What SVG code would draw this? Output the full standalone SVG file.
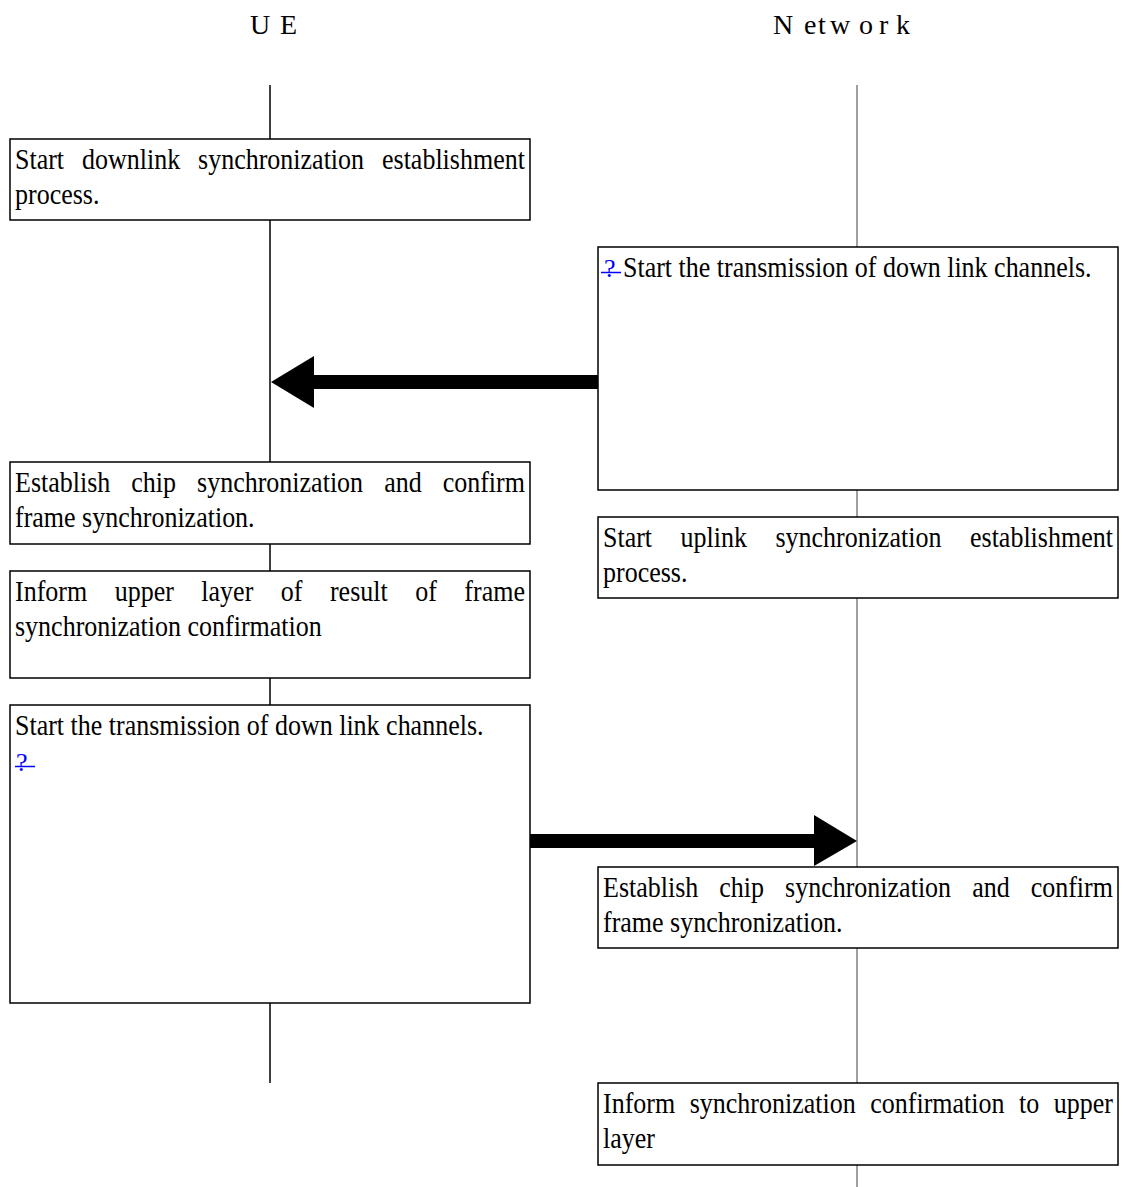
<svg xmlns="http://www.w3.org/2000/svg" width="1123" height="1187" viewBox="0 0 1123 1187">
<style>
.bg{fill:#fff}
.box{fill:#fff;stroke:#000;stroke-width:1.5}
.t{font-family:"Liberation Serif","Times New Roman",serif;font-size:30px;fill:#000}
.h{font-family:"Liberation Serif","Times New Roman",serif;font-size:28px;fill:#000}
.q{font-family:"Liberation Serif","Times New Roman",serif;font-size:26px;fill:#0000ff}
.ql{stroke:#0000ff;stroke-width:1.5}
.life-ue{stroke:#000;stroke-width:1.5}
.life-nw{stroke:#808080;stroke-width:1.5}
.arr{fill:#000}
</style>
<rect class="bg" x="0" y="0" width="1123" height="1187"/>
<g id="headers">
  <text class="h" y="34" x="250 280">UE</text>
  <text class="h" y="34" x="773 804 818 830 859 879 896">Network</text>
</g>
<g id="lifelines">
  <line class="life-ue" x1="270" y1="85" x2="270" y2="1083"/>
  <line class="life-nw" x1="857" y1="85" x2="857" y2="1187"/>
</g>
<g id="ue-box1">
  <rect class="box" x="10" y="139" width="520" height="81"/>
  <text class="t" transform="matrix(0.8667 0 0 1 15 0)" y="169"><tspan x="0">Start </tspan><tspan x="77.27">downlink </tspan><tspan x="211.21">synchronization </tspan><tspan x="423.45">establishment</tspan></text>
  <text class="t" transform="matrix(0.8667 0 0 1 15 0)" x="0" y="204">process.</text>
</g>
<g id="nw-box1">
  <rect class="box" x="598" y="247" width="520" height="243"/>
  <line class="ql" x1="601" y1="272.5" x2="621" y2="272.5"/>
  <text class="q" x="604" y="277">?</text>
  <text class="t" transform="matrix(0.8667 0 0 1 623 0)" x="0" y="277">Start the transmission of down link channels.</text>
</g>
<g id="ue-box2">
  <rect class="box" x="10" y="462" width="520" height="82"/>
  <text class="t" transform="matrix(0.8667 0 0 1 15 0)" y="492"><tspan x="0">Establish </tspan><tspan x="134.22">chip </tspan><tspan x="210.09">synchronization </tspan><tspan x="425.94">and </tspan><tspan x="493.47">confirm</tspan></text>
  <text class="t" transform="matrix(0.8667 0 0 1 15 0)" x="0" y="527">frame synchronization.</text>
</g>
<g id="ue-box3">
  <rect class="box" x="10" y="571" width="520" height="107"/>
  <text class="t" transform="matrix(0.8667 0 0 1 15 0)" y="601"><tspan x="0">Inform </tspan><tspan x="115.02">upper </tspan><tspan x="215.04">layer </tspan><tspan x="306.72">of </tspan><tspan x="363.42">result </tspan><tspan x="461.79">of </tspan><tspan x="518.49">frame</tspan></text>
  <text class="t" transform="matrix(0.8667 0 0 1 15 0)" x="0" y="636">synchronization confirmation</text>
</g>
<g id="nw-box2">
  <rect class="box" x="598" y="517" width="520" height="81"/>
  <text class="t" transform="matrix(0.8667 0 0 1 603 0)" y="547"><tspan x="0">Start </tspan><tspan x="89.49">uplink </tspan><tspan x="198.99">synchronization </tspan><tspan x="423.45">establishment</tspan></text>
  <text class="t" transform="matrix(0.8667 0 0 1 603 0)" x="0" y="582">process.</text>
</g>
<g id="ue-box4">
  <rect class="box" x="10" y="705" width="520" height="298"/>
  <text class="t" transform="matrix(0.8667 0 0 1 15 0)" x="0" y="735">Start the transmission of down link channels.</text>
  <line class="ql" x1="15" y1="766.5" x2="35" y2="766.5"/>
  <text class="q" x="16" y="771">?</text>
</g>
<g id="nw-box3">
  <rect class="box" x="598" y="867" width="520" height="81"/>
  <text class="t" transform="matrix(0.8667 0 0 1 603 0)" y="897"><tspan x="0">Establish </tspan><tspan x="134.22">chip </tspan><tspan x="210.09">synchronization </tspan><tspan x="425.94">and </tspan><tspan x="493.47">confirm</tspan></text>
  <text class="t" transform="matrix(0.8667 0 0 1 603 0)" x="0" y="932">frame synchronization.</text>
</g>
<g id="nw-box4">
  <rect class="box" x="598" y="1083" width="520" height="82"/>
  <text class="t" transform="matrix(0.8667 0 0 1 603 0)" y="1113"><tspan x="0">Inform </tspan><tspan x="100.03">synchronization </tspan><tspan x="308.39">confirmation </tspan><tspan x="480.09">to </tspan><tspan x="520.15">upper</tspan></text>
  <text class="t" transform="matrix(0.8667 0 0 1 603 0)" x="0" y="1148">layer</text>
</g>
<g id="connectors">
  <rect class="arr" x="313" y="375" width="285" height="14"/>
  <polygon class="arr" points="271,382 314,356 314,408"/>
  <rect class="arr" x="530" y="834" width="285" height="14"/>
  <polygon class="arr" points="857,841 814,815 814,866"/>
</g>
</svg>
